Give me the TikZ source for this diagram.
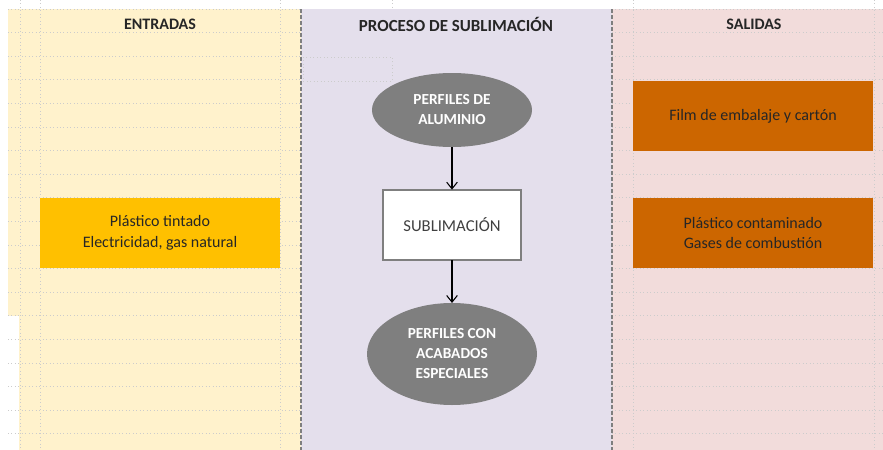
\documentclass[tikz,border=0pt]{standalone}
\usepackage{fontspec}
\setmainfont{Carlito}
\usepackage{tikz}
\usetikzlibrary{arrows.meta, positioning, shapes.geometric}
\definecolor{fondoEnt}{HTML}{FFF2CC}
\definecolor{fondoProc}{HTML}{E4DFEC}
\definecolor{fondoSal}{HTML}{F2DCDB}
\definecolor{cajaEnt}{HTML}{FFC000}
\definecolor{cajaSal}{HTML}{CC6600}
\definecolor{grisElipse}{HTML}{7F7F7F}
\tikzset{cabecera/.style={font=\bfseries\fontsize{12}{14}\selectfont, text=black!85}}
\tikzset{materia/.style={ellipse, fill=grisElipse, text=white, align=center,
  inner sep=0pt, outer sep=0pt, font=\bfseries\fontsize{11.5}{15}\selectfont}}
\tikzset{proceso/.style={rectangle, draw=grisElipse, line width=1.5pt, fill=white,
  text=black!75, minimum width=103.5pt, minimum height=53pt, outer sep=0pt,
  font=\fontsize{12.5}{15}\selectfont}}
\tikzset{entrada/.style={rectangle, fill=cajaEnt, text=black!85, align=center,
  minimum width=180pt, minimum height=52.5pt, font=\fontsize{12}{15.5}\selectfont}}
\tikzset{salida/.style={entrada, fill=cajaSal}}
\tikzset{rejilla/.style={draw=gray!40, dotted, line width=0.6pt}}
\tikzset{columna/.style={draw=grisElipse, dash pattern=on 3pt off 1.5pt, line width=1.1pt}}
\tikzset{flecha/.style={-{Straight Barb[length=5pt,width=8pt]}, line width=0.8pt}}

\begin{document}
\begin{tikzpicture}[x=0.75pt, y=-0.75pt, node distance=32pt]
  \useasboundingbox (0,0) rectangle (883,450);
  % Backgrounds
  \fill[fondoEnt] (8,9) rectangle (301,316);
  \fill[fondoEnt] (19,316) rectangle (301,450);
  \fill[fondoProc] (301,9) rectangle (612,450);
  \fill[fondoSal] (612,9) rectangle (883,450);
  % Grid
  \foreach \k in {0,...,18} {
    \draw[rejilla] (8,{9+23.6*\k}) -- (301,{9+23.6*\k});
    \draw[rejilla] (612,{9+23.6*\k}) -- (883,{9+23.6*\k});
  }
  \foreach \x in {20,40,280,633,874}
    \draw[rejilla] (\x,0) -- (\x,450);
  \draw[rejilla] (392,0) -- (392,9);
  \draw[rejilla] (303,57) rectangle (392,81);
  % Columns
  \draw[columna] (301,9) -- (301,450);
  \draw[columna] (612,9) -- (612,450);
  % Headers
  \node[cabecera] (entradas) at (160,24) {ENTRADAS};
  \node[cabecera, font=\bfseries\fontsize{12.7}{14}\selectfont] (proceso) at (456,24) {PROCESO DE SUBLIMACIÓN};
  \node[cabecera] (salidas) at (754,24) {SALIDAS};
  % Nodes
  \node[materia, minimum width=120pt, minimum height=55.5pt] (aluminio) at (452,110) {PERFILES DE\\ALUMINIO};
  \node[proceso] (sublimacion) [below=of aluminio] {SUBLIMACIÓN};
  \node[materia, minimum width=127.5pt, minimum height=76.5pt] (acabados) [below=of sublimacion] {PERFILES CON\\ACABADOS\\ESPECIALES};
  \node[entrada] (plastico) at (160,233) {Plástico tintado\\Electricidad, gas natural};
  \node[salida] (film) at (753,116) {Film de embalaje y cartón};
  \node[salida] (residuos) at (753,233) {Plástico contaminado\\Gases de combustión};
  % Edges
  \draw[flecha] (aluminio) -- (sublimacion);
  \draw[flecha] (sublimacion) -- (acabados);
\end{tikzpicture}
\end{document}
